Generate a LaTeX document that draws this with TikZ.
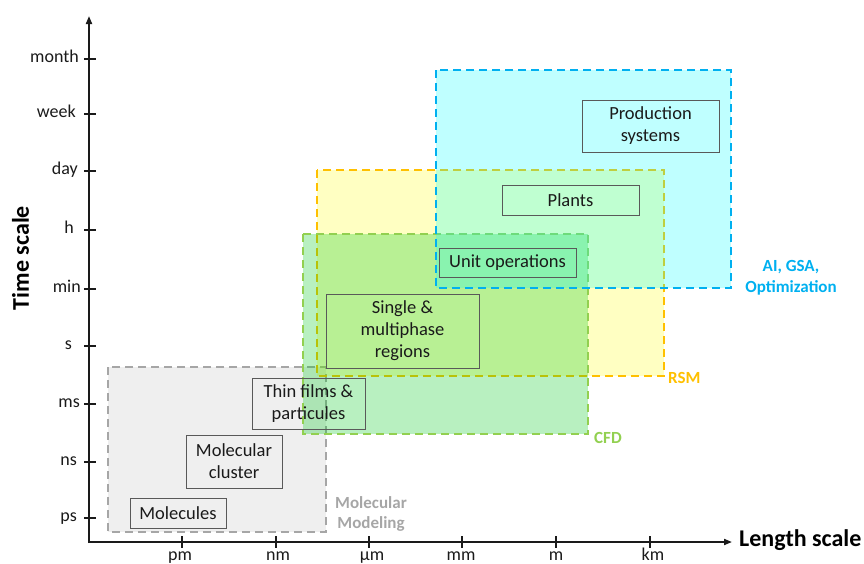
\documentclass[tikz,border=0pt]{standalone}
\usepackage{fontspec}
\setmainfont{Carlito}
\usetikzlibrary{arrows.meta}
\definecolor{dashGray}{HTML}{A6A6A6}
\definecolor{fillGray}{HTML}{EFEFEF}
\definecolor{gold}{HTML}{FFC000}
\definecolor{lgreen}{HTML}{92D050}
\definecolor{sky}{HTML}{00B0F0}
\definecolor{boxline}{HTML}{595959}
\definecolor{txt}{HTML}{1A1A1A}
\definecolor{yfill}{RGB}{255,255,0}
\definecolor{gfill}{RGB}{0,200,30}
\definecolor{cfill}{RGB}{0,255,255}
\begin{document}
\begin{tikzpicture}[x=1pt,y=-1pt,
  axisline/.style={line width=1.8pt,txt},
  region/.style={line width=2.6pt,dash pattern=on 8pt off 5pt},
  ibox/.style={draw=boxline,line width=1pt,inner sep=0pt,align=center,
    font=\fontsize{18.5}{22}\selectfont,text=txt},
  tlab/.style={font=\fontsize{18}{20}\selectfont,text=txt,inner sep=0pt},
  rlab/.style={font=\fontsize{17}{21}\selectfont\bfseries,inner sep=0pt,align=center},
  title/.style={font=\fontsize{24}{28}\selectfont\bfseries,text=black,inner sep=0pt}]
\useasboundingbox (0,0) rectangle (864,563);

% regions
\path[fill=fillGray,draw=dashGray,region] (108,367) rectangle (326,532);
\path[fill=yfill,fill opacity=0.24,draw=gold,draw opacity=1,region] (317,170) rectangle (664,376);
\path[fill=gfill,fill opacity=0.28,draw=lgreen,region] (303,234) rectangle (588,434);
\path[fill=cfill,fill opacity=0.25,draw=sky,region] (436,70) rectangle (731,288);

% axes
\coordinate (ytip) at (89,16);
\coordinate (xtip) at (732,542);
\coordinate (ystart) at (89,543);
\coordinate (xstart) at (88,542);
\draw[axisline,-{Triangle[length=8pt,width=6pt]}] (ystart) -- (ytip);
\draw[axisline,-{Triangle[length=8pt,width=6pt]}] (xstart) -- (xtip);

% y ticks
\foreach \y/\name/\xr in {59/month/79,114/week/76,171/day/78,230/h/74,289/min/81,346/s/72,404/ms/80,462/ns/77,518/ps/77}{
  \draw[axisline,line width=1.5pt] (84,\y) -- (96,\y);
  \node[tlab,anchor=base east] (y-\name) at (\xr,\y+3.5) {\name};
}
% x ticks
\foreach \x in {182,276,369,462,556,650}{
  \draw[axisline,line width=1.5pt] (\x,536) -- (\x,548);
}
\node[tlab,anchor=base] (x-pm) at (180,560) {pm};
\node[tlab,anchor=base] (x-nm) at (278,560) {nm};
\node[tlab,anchor=base] (x-um) at (372,560) {µm};
\node[tlab,anchor=base] (x-mm) at (461,560) {mm};
\node[tlab,anchor=base] (x-m) at (556,560) {m};
\node[tlab,anchor=base] (x-km) at (653,560) {km};

% axis titles
\node[title,rotate=90] (ttitle) at (20.5,258) {Time scale};
\node[title,anchor=base west] (ltitle) at (739,546) {Length scale};

% inner boxes
\node[ibox,minimum width=96pt,minimum height=30pt] (molecules) at (178,513) {Molecules};
\node[ibox,minimum width=96pt,minimum height=53pt] (cluster) at (234,461.5) {Molecular\\cluster};
\node[ibox,minimum width=113pt,minimum height=51pt] (thin) at (308.5,403.5) {Thin films \&\\particules};
\node[ibox,minimum width=153pt,minimum height=74pt] (single) at (402.5,331) {Single \&\\multiphase\\regions};
\node[ibox,minimum width=137pt,minimum height=29pt] (unit) at (507.5,262.5) {Unit operations};
\node[ibox,minimum width=137pt,minimum height=30pt] (plants) at (570.5,200) {Plants};
\node[ibox,minimum width=137pt,minimum height=52pt] (prod) at (650.5,126) {Production\\systems};

% region labels
\node[rlab,text=dashGray,anchor=base] (mm-lab) at (371,508) {Molecular};
\node[rlab,text=dashGray,anchor=base] (mm-lab2) at (371,528) {Modeling};
\node[rlab,text=lgreen,anchor=base west] (cfd-lab) at (594,443) {CFD};
\node[rlab,text=gold,anchor=base west] (rsm-lab) at (668,383) {RSM};
\node[rlab,text=sky,anchor=base] (ai-lab) at (791,271) {AI, GSA,};
\node[rlab,text=sky,anchor=base] (ai-lab2) at (791,292) {Optimization};
\end{tikzpicture}
\end{document}
